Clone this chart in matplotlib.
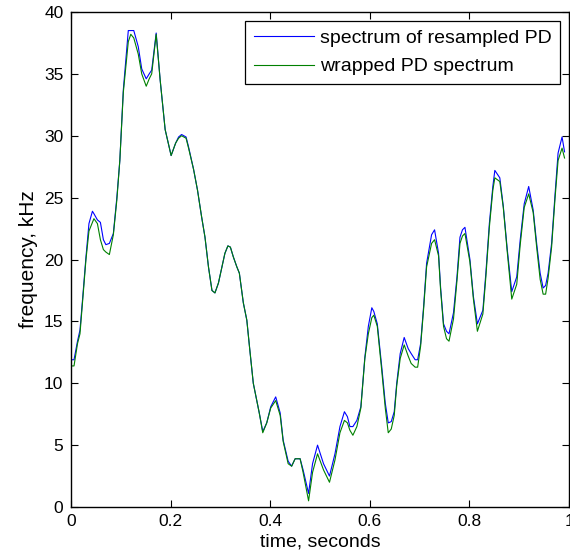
import matplotlib
matplotlib.use("Agg")
import matplotlib.pyplot as plt

# time axis (seconds) shared by both spectra
time_s = [
    0.000, 0.006, 0.013, 0.018, 0.023, 0.030, 0.036, 0.043, 0.046, 0.053,
    0.059, 0.065, 0.070, 0.077, 0.085, 0.092, 0.098, 0.105, 0.115, 0.120,
    0.126, 0.135, 0.142, 0.151, 0.157, 0.162, 0.171, 0.179, 0.189, 0.201,
    0.210, 0.216, 0.222, 0.231, 0.236, 0.246, 0.254, 0.262, 0.269, 0.276,
    0.283, 0.289, 0.296, 0.303, 0.309, 0.315, 0.320, 0.326, 0.333, 0.338,
    0.346, 0.353, 0.359, 0.366, 0.373, 0.378, 0.385, 0.393, 0.401, 0.411,
    0.420, 0.426, 0.436, 0.443, 0.450, 0.460, 0.466, 0.477, 0.485, 0.495,
    0.507, 0.519, 0.530, 0.540, 0.549, 0.555, 0.560, 0.566, 0.574, 0.582,
    0.590, 0.597, 0.604, 0.608, 0.615, 0.624, 0.631, 0.637, 0.643, 0.649,
    0.654, 0.661, 0.669, 0.677, 0.683, 0.691, 0.696, 0.702, 0.708, 0.714,
    0.724, 0.730, 0.738, 0.742, 0.748, 0.754, 0.759, 0.768, 0.775, 0.781,
    0.786, 0.791, 0.801, 0.808, 0.816, 0.827, 0.833, 0.840, 0.847, 0.851,
    0.861, 0.868, 0.876, 0.885, 0.895, 0.902, 0.910, 0.919, 0.928, 0.935,
    0.942, 0.948, 0.953, 0.958, 0.965, 0.972, 0.978, 0.986, 0.991,
]

# spectrum of resampled PD (kHz)
resampled_khz = [
    11.9, 11.9, 13.4, 14.3, 16.7, 20.2, 22.9, 23.9, 23.7, 23.2,
    23.0, 21.6, 21.2, 21.3, 22.1, 25.0, 28.0, 33.7, 38.5, 38.5,
    38.5, 37.2, 35.4, 34.6, 35.0, 35.3, 38.3, 34.5, 30.5, 28.4,
    29.4, 29.9, 30.1, 29.9, 29.1, 27.3, 25.6, 23.5, 21.8, 19.4,
    17.5, 17.3, 18.1, 19.4, 20.5, 21.1, 21.0, 20.2, 19.4, 18.9,
    16.5, 15.1, 12.7, 10.0, 8.6, 7.6, 6.1, 6.8, 8.1, 8.9,
    7.6, 5.4, 3.7, 3.3, 3.9, 3.9, 3.0, 1.1, 3.5, 5.0,
    3.5, 2.5, 4.3, 6.5, 7.7, 7.3, 6.5, 6.5, 7.0, 8.1,
    12.1, 14.6, 16.1, 15.8, 14.8, 11.3, 8.4, 6.8, 6.9, 7.7,
    10.0, 12.4, 13.7, 12.8, 12.4, 11.9, 11.9, 13.2, 16.2, 19.7,
    22.0, 22.4, 20.5, 17.8, 14.8, 14.2, 14.0, 15.7, 18.6, 21.8,
    22.4, 22.6, 20.0, 17.0, 14.8, 15.9, 18.9, 22.9, 25.9, 27.2,
    26.6, 24.3, 20.8, 17.4, 18.6, 21.6, 24.5, 25.9, 24.0, 21.3,
    18.9, 17.7, 17.9, 18.9, 21.3, 25.3, 28.6, 29.9, 28.7,
]

# wrapped PD spectrum (kHz)
wrapped_khz = [
    11.4, 11.4, 13.2, 14.0, 16.5, 20.0, 22.3, 23.0, 23.3, 22.9,
    21.6, 20.8, 20.6, 20.4, 22.0, 24.8, 28.0, 33.5, 37.6, 38.2,
    37.9, 36.6, 35.0, 34.0, 34.6, 35.0, 38.2, 34.5, 30.5, 28.4,
    29.4, 29.8, 30.0, 29.8, 29.0, 27.3, 25.6, 23.5, 21.8, 19.4,
    17.5, 17.3, 18.1, 19.4, 20.5, 21.1, 21.0, 20.2, 19.4, 18.9,
    16.5, 15.1, 12.7, 10.0, 8.6, 7.6, 6.0, 6.8, 8.0, 8.6,
    7.4, 5.3, 3.5, 3.3, 3.9, 3.9, 2.8, 0.5, 2.8, 4.3,
    3.0, 2.0, 3.8, 6.0, 7.0, 6.8, 6.2, 5.8, 6.5, 8.0,
    12.0, 14.0, 15.3, 15.5, 14.6, 11.0, 8.0, 6.0, 6.3, 7.4,
    9.8, 12.0, 13.1, 12.2, 11.6, 11.3, 11.3, 13.0, 16.0, 19.4,
    21.3, 21.6, 20.3, 17.6, 14.6, 13.6, 13.4, 15.2, 18.3, 21.3,
    21.9, 22.1, 19.8, 16.8, 14.2, 15.6, 18.6, 22.6, 25.6, 26.6,
    26.3, 24.2, 20.6, 16.8, 18.0, 21.2, 24.2, 25.3, 23.8, 21.0,
    18.4, 17.2, 17.2, 18.5, 21.0, 25.0, 28.0, 29.0, 28.2,
]

x_ticks = [0, 0.2, 0.4, 0.6, 0.8, 1]
x_tick_labels = ["0", "0.2", "0.4", "0.6", "0.8", "1"]
y_ticks = [0, 5, 10, 15, 20, 25, 30, 35, 40]

plt.rcParams["font.family"] = ["Liberation Sans", "DejaVu Sans"]

fig = plt.figure(figsize=(5.7, 5.6), dpi=100)
ax = fig.add_axes([0.1246, 0.0946, 0.8737, 0.884])

ax.plot(time_s, resampled_khz, color=(0, 0, 1), linewidth=0.8,
        label="spectrum of resampled PD")
ax.plot(time_s, wrapped_khz, color=(0, 0.5, 0), linewidth=0.8,
        label="wrapped PD spectrum")

ax.set_xlim(0, 1)
ax.set_ylim(0, 40)
ax.set_xticks(x_ticks)
ax.set_xticklabels(x_tick_labels)
ax.set_yticks(y_ticks)
ax.tick_params(direction="in", length=5, width=0.8, top=True, right=True,
               labelsize=12.5)
ax.tick_params(axis="y", pad=5.5)
ax.tick_params(axis="x", pad=5)
for sp in ax.spines.values():
    sp.set_linewidth(1.0)

ax.set_xlabel("time, seconds", fontsize=14, labelpad=3)
ax.set_ylabel("frequency, kHz", fontsize=15, labelpad=4)

leg = ax.legend(loc="upper right", fontsize=14, handlelength=3.1,
                frameon=True, fancybox=False, borderaxespad=0.45,
                handletextpad=0.3, labelspacing=0.55, borderpad=0.45)
leg.get_frame().set_edgecolor("black")
leg.get_frame().set_linewidth(0.9)
leg.get_frame().set_alpha(1.0)

fig.savefig("out.png", dpi=100)
